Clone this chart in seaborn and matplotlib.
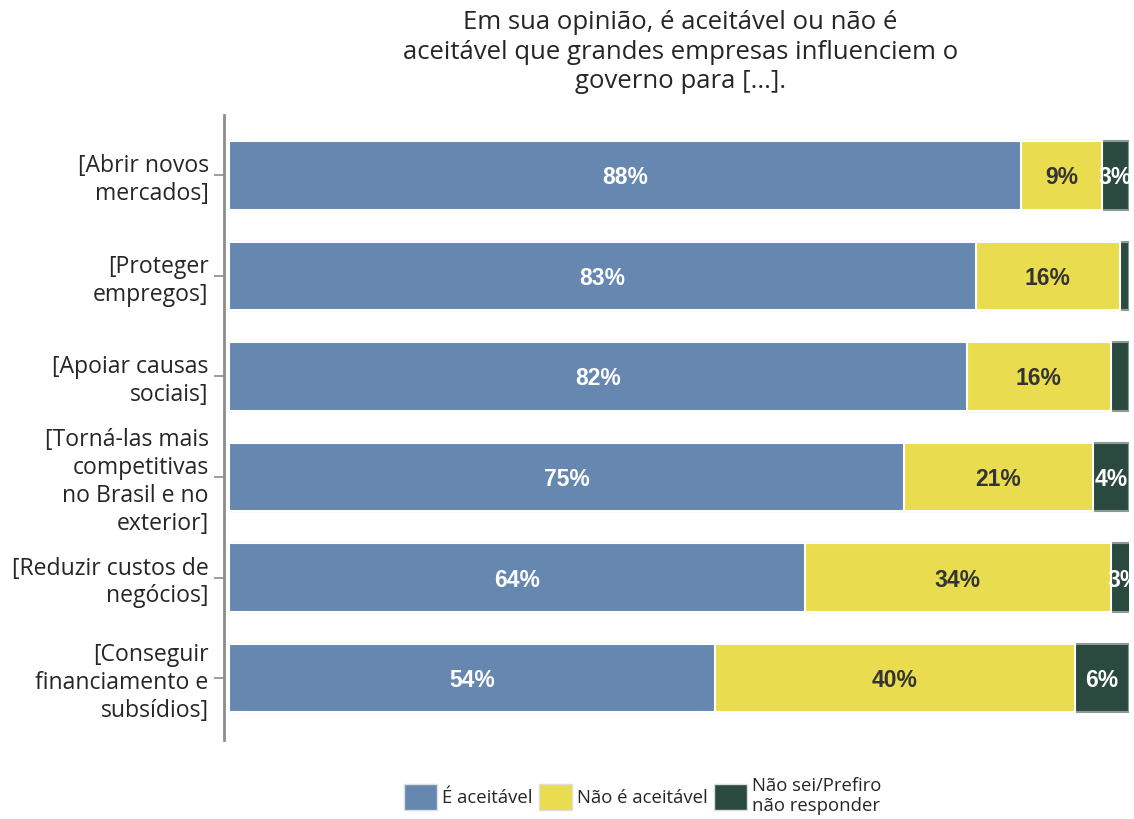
import matplotlib
matplotlib.use("Agg")
import matplotlib.pyplot as plt
from matplotlib.patches import Patch
import seaborn as sns
import pandas as pd
import numpy as np

categories = [
    "[Abrir novos\nmercados]",
    "[Proteger\nempregos]",
    "[Apoiar causas\nsociais]",
    "[Torná-las mais\ncompetitivas\nno Brasil e no\nexterior]",
    "[Reduzir custos de\nnegócios]",
    "[Conseguir\nfinanciamento e\nsubsídios]",
]
aceitavel = [88, 83, 82, 75, 64, 54]
nao_aceitavel = [9, 16, 16, 21, 34, 40]
nao_sei = [3, 1, 2, 4, 3, 6]

series_names = ["É aceitável", "Não é aceitável", "Não sei/Prefiro\nnão responder"]
colors = ["#6688B0", "#E9DD4F", "#2B4A3F"]
text_colors = ["white", "#333333", "white"]

title = "Em sua opinião, é aceitável ou não é\naceitável que grandes empresas influenciem o\ngoverno para [...]."

sns.set_theme(style="white")
plt.rcParams["font.family"] = ["Open Sans", "DejaVu Sans"]

df = pd.DataFrame({
    "cat": categories,
    "a": aceitavel,
    "b": nao_aceitavel,
    "c": nao_sei,
})
df["cum_a"] = df["a"]
df["cum_b"] = df["a"] + df["b"]
df["cum_c"] = df["a"] + df["b"] + df["c"]

fig = plt.figure(figsize=(11.34, 8.19), dpi=100)
ax = fig.add_axes([0.1975, 0.0965, 0.798, 0.763])

# stacked bars drawn as overlapping cumulative totals, widest first
for col, color, ec in [("cum_c", colors[2], "#8a9a94"), ("cum_b", colors[1], "white"), ("cum_a", colors[0], "white")]:
    sns.barplot(data=df, y="cat", x=col, orient="h", color=color, width=0.68,
                edgecolor=ec, linewidth=1.5, saturation=1, ax=ax)

# segment labels
for i in range(len(categories)):
    lefts = [0, aceitavel[i], aceitavel[i] + nao_aceitavel[i]]
    vals = [aceitavel[i], nao_aceitavel[i], nao_sei[i]]
    for j in range(3):
        if vals[j] < 3:
            continue
        t = ax.text(lefts[j] + vals[j] / 2, i, f"{vals[j]}%", ha="center", va="center_baseline",
                    color=text_colors[j], fontsize=16.5, fontweight="bold",
                    family=["Liberation Sans", "DejaVu Sans"])
        t.set_clip_on(True)

ax.set_xlim(-0.55, 100)
ax.set_ylim(5.616, -0.6)
ax.set_xlabel("")
ax.set_ylabel("")
ax.set_xticks([])
for s in ["top", "right", "bottom"]:
    ax.spines[s].set_visible(False)
ax.spines["left"].set_color("#8c8c8c")
ax.spines["left"].set_linewidth(2)
ax.tick_params(axis="y", left=True, length=7, width=1.2, color="#8c8c8c",
               labelsize=16.6, labelcolor="#262626", pad=4)
for lbl in ax.get_yticklabels():
    lbl.set_multialignment("right")
    lbl.set_linespacing(1.22)

fig.text(0.6, 0.988, title, ha="center", va="top", fontsize=18.5, color="#262626",
         linespacing=1.25)

handles = [Patch(facecolor=c, edgecolor="#dddddd", linewidth=1) for c in colors]
fig.legend(handles, series_names, loc="center", bbox_to_anchor=(0.567, 0.028),
           ncol=3, frameon=False, fontsize=13.3, handlelength=1.75, handleheight=1.75,
           handletextpad=0.3, columnspacing=0.35, labelcolor="#262626")

fig.savefig("out.png", dpi=100)
